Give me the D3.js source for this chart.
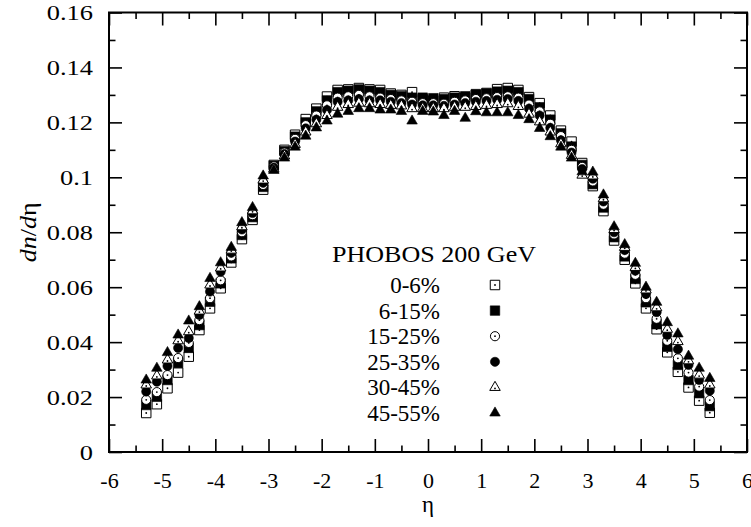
<!DOCTYPE html>
<html>
<head>
<meta charset="utf-8">
<script src="https://cdn.jsdelivr.net/npm/d3@7"></script>
<style>
  body { margin: 0; background: #fff; }
</style>
</head>
<body>
<div class="chart-box"></div>
<script>
// pseudorapidity bins
const eta = [-5.3, -5.1, -4.9, -4.7, -4.5, -4.3, -4.1, -3.9, -3.7, -3.5, -3.3, -3.1, -2.9, -2.7,
  -2.5, -2.3, -2.1, -1.9, -1.7, -1.5, -1.3, -1.1, -0.9, -0.7, -0.5, -0.3, -0.1,
  0.1, 0.3, 0.5, 0.7, 0.9, 1.1, 1.3, 1.5, 1.7, 1.9, 2.1, 2.3, 2.5, 2.7, 2.9, 3.1,
  3.3, 3.5, 3.7, 3.9, 4.1, 4.3, 4.5, 4.7, 4.9, 5.1, 5.3];

const centralities = ["0-6%", "6-15%", "15-25%", "25-35%", "30-45%", "45-55%"];

// dn/deta, one array per centrality class
const c0_6 = [0.0142, 0.0174, 0.0232, 0.0289, 0.0347, 0.0444, 0.0523, 0.0596, 0.0690, 0.0775, 0.0845, 0.0955, 0.1045, 0.1100,
  0.1155, 0.1212, 0.1250, 0.1294, 0.1318, 0.1320, 0.1325, 0.1320, 0.1318, 0.1305, 0.1300, 0.1310, 0.1285,
  0.1280, 0.1290, 0.1295, 0.1290, 0.1300, 0.1307, 0.1321, 0.1325, 0.1318, 0.1292, 0.1270, 0.1225, 0.1170, 0.1130, 0.1052, 0.0968,
  0.0877, 0.0770, 0.0700, 0.0614, 0.0523, 0.0447, 0.0363, 0.0292, 0.0235, 0.0187, 0.0143];
const c6_15 = [0.0171, 0.0201, 0.0262, 0.0324, 0.0379, 0.0462, 0.0547, 0.0614, 0.0705, 0.0790, 0.0855, 0.0965, 0.1042, 0.1095,
  0.1148, 0.1200, 0.1240, 0.1280, 0.1310, 0.1315, 0.1320, 0.1315, 0.1310, 0.1300, 0.1295, 0.1290, 0.1290,
  0.1288, 0.1285, 0.1290, 0.1295, 0.1303, 0.1305, 0.1312, 0.1315, 0.1310, 0.1285, 0.1255, 0.1210, 0.1160, 0.1112, 0.1045, 0.0975,
  0.0890, 0.0782, 0.0712, 0.0630, 0.0545, 0.0465, 0.0383, 0.0317, 0.0262, 0.0214, 0.0167];
const c15_25 = [0.0190, 0.0218, 0.0280, 0.0342, 0.0397, 0.0480, 0.0560, 0.0625, 0.0712, 0.0800, 0.0862, 0.0972, 0.1040, 0.1090,
  0.1140, 0.1190, 0.1225, 0.1262, 0.1290, 0.1295, 0.1300, 0.1295, 0.1290, 0.1285, 0.1280, 0.1275, 0.1270,
  0.1270, 0.1268, 0.1275, 0.1280, 0.1285, 0.1288, 0.1292, 0.1295, 0.1290, 0.1265, 0.1240, 0.1195, 0.1150, 0.1100, 0.1038, 0.0985,
  0.0900, 0.0792, 0.0722, 0.0645, 0.0560, 0.0485, 0.0405, 0.0341, 0.0289, 0.0238, 0.0189];
const c25_35 = [0.0220, 0.0256, 0.0313, 0.0379, 0.0415, 0.0499, 0.0584, 0.0656, 0.0725, 0.0810, 0.0870, 0.0980, 0.1035, 0.1085,
  0.1130, 0.1178, 0.1210, 0.1245, 0.1275, 0.1280, 0.1285, 0.1280, 0.1280, 0.1275, 0.1270, 0.1265, 0.1262,
  0.1262, 0.1260, 0.1265, 0.1270, 0.1275, 0.1278, 0.1282, 0.1285, 0.1278, 0.1250, 0.1225, 0.1180, 0.1135, 0.1090, 0.1030, 0.0995,
  0.0912, 0.0800, 0.0735, 0.0660, 0.0575, 0.0509, 0.0426, 0.0374, 0.0317, 0.0262, 0.0223];
const c30_45 = [0.0244, 0.0277, 0.0335, 0.0405, 0.0438, 0.0513, 0.0608, 0.0670, 0.0735, 0.0820, 0.0878, 0.0990, 0.1030, 0.1078,
  0.1120, 0.1165, 0.1195, 0.1225, 0.1255, 0.1265, 0.1270, 0.1268, 0.1265, 0.1262, 0.1260, 0.1250, 0.1250,
  0.1250, 0.1250, 0.1255, 0.1255, 0.1258, 0.1262, 0.1265, 0.1268, 0.1258, 0.1230, 0.1202, 0.1165, 0.1122, 0.1080, 0.1008, 0.1005,
  0.0922, 0.0810, 0.0745, 0.0672, 0.0590, 0.0525, 0.0447, 0.0402, 0.0332, 0.0280, 0.0244];
const c45_55 = [0.0262, 0.0305, 0.0362, 0.0426, 0.0477, 0.0529, 0.0632, 0.0689, 0.0745, 0.0835, 0.0890, 0.1005, 0.1025, 0.1070,
  0.1110, 0.1150, 0.1180, 0.1205, 0.1230, 0.1240, 0.1250, 0.1250, 0.1245, 0.1245, 0.1240, 0.1205, 0.1240,
  0.1238, 0.1225, 0.1240, 0.1215, 0.1239, 0.1235, 0.1235, 0.1235, 0.1225, 0.1210, 0.1178, 0.1148, 0.1110, 0.1070, 0.1020, 0.1019,
  0.0936, 0.0820, 0.0755, 0.0687, 0.0600, 0.0545, 0.0471, 0.0430, 0.0349, 0.0305, 0.0268];

const xTicks = [-6, -5, -4, -3, -2, -1, 0, 1, 2, 3, 4, 5, 6];
const yTicks = [0, 0.02, 0.04, 0.06, 0.08, 0.1, 0.12, 0.14, 0.16];
const xTickLabels = ["-6", "-5", "-4", "-3", "-2", "-1", "0", "1", "2", "3", "4", "5", "6"];
const yTickLabels = ["0", "0.02", "0.04", "0.06", "0.08", "0.1", "0.12", "0.14", "0.16"];

const series = [
  { name: centralities[0], values: c0_6, shape: "square", open: true },
  { name: centralities[1], values: c6_15, shape: "square", open: false },
  { name: centralities[2], values: c15_25, shape: "circle", open: true },
  { name: centralities[3], values: c25_35, shape: "circle", open: false },
  { name: centralities[4], values: c30_45, shape: "triangle", open: true },
  { name: centralities[5], values: c45_55, shape: "triangle", open: false },
];

const W = 751, H = 527;
const SERIF = "'Liberation Serif'";
const svg = d3.select(".chart-box").append("svg")
  .attr("width", W)
  .attr("height", H);

const x = d3.scaleLinear().domain([-6, 6]).range([109, 747]);
const y = d3.scaleLinear().domain([0, 0.16]).range([452, 12.5]);

const major = 13, minor = 6.5, lw = 1.6;
const stretch = 1.2; // y tick labels look wider than plain Times

//ticks on all four sides, pointing inward
const xMinor = d3.range(-5.5, 6, 1);
const yMinor = d3.range(0.01, 0.16, 0.02);

function styleAxis(g) {
  g.attr("font-family", null);
  g.selectAll("path.domain").remove();
  g.selectAll("line").attr("stroke", "#000").attr("stroke-width", lw);
  g.selectAll("text")
    .attr("fill", "#000")
    .style("font-family", SERIF)
    .style("font-size", "22px");
}

svg.append("g").attr("transform", `translate(0,${y(0)})`)
  .call(d3.axisBottom(x).tickValues(xTicks).tickSize(-major).tickPadding(20)
    .tickFormat((d, i) => xTickLabels[i]))
  .call(styleAxis);
svg.append("g").attr("transform", `translate(0,${y(0)})`)
  .call(d3.axisBottom(x).tickValues(xMinor).tickSize(-minor).tickFormat(""))
  .call(styleAxis);
svg.append("g").attr("transform", `translate(0,${y(0.16)})`)
  .call(d3.axisTop(x).tickValues(xTicks).tickSize(-major).tickFormat(""))
  .call(styleAxis);
svg.append("g").attr("transform", `translate(0,${y(0.16)})`)
  .call(d3.axisTop(x).tickValues(xMinor).tickSize(-minor).tickFormat(""))
  .call(styleAxis);

svg.append("g").attr("transform", `translate(${x(-6)},0)`)
  .call(d3.axisLeft(y).tickValues(yTicks).tickSize(-major).tickPadding(16)
    .tickFormat((d, i) => yTickLabels[i]))
  .call(styleAxis)
  .call(g => g.selectAll("text")
    .attr("x", -16 / stretch)
    .attr("transform", `scale(${stretch},1)`));
svg.append("g").attr("transform", `translate(${x(-6)},0)`)
  .call(d3.axisLeft(y).tickValues(yMinor).tickSize(-minor).tickFormat(""))
  .call(styleAxis);
svg.append("g").attr("transform", `translate(${x(6)},0)`)
  .call(d3.axisRight(y).tickValues(yTicks).tickSize(-major).tickFormat(""))
  .call(styleAxis);
svg.append("g").attr("transform", `translate(${x(6)},0)`)
  .call(d3.axisRight(y).tickValues(yMinor).tickSize(-minor).tickFormat(""))
  .call(styleAxis);

//frame
svg.append("rect")
  .attr("x", x(-6)).attr("y", y(0.16))
  .attr("width", x(6) - x(-6)).attr("height", y(0) - y(0.16))
  .attr("fill", "none").attr("stroke", "#000").attr("stroke-width", 2);

//axis titles
svg.append("text")
  .attr("x", (x(-6) + x(6)) / 2).attr("y", 512)
  .attr("text-anchor", "middle")
  .style("font-family", SERIF).style("font-size", "23px")
  .text("η");

const yl = svg.append("text")
  .attr("transform", `translate(36,${y(0.08)}) rotate(-90)`)
  .attr("text-anchor", "middle")
  .attr("textLength", 60).attr("lengthAdjust", "spacingAndGlyphs")
  .style("font-family", SERIF).style("font-size", "23px");
yl.append("tspan").attr("font-style", "italic").text("dn");
yl.append("tspan").text("/");
yl.append("tspan").attr("font-style", "italic").text("d");
yl.append("tspan").text("η");

//markers
const shapes = { square: d3.symbolSquare, circle: d3.symbolCircle, triangle: d3.symbolTriangle };
const sizes = { square: 90, circle: 66, triangle: 48 };

function drawMarker(g, s, cx, cy) {
  g.append("path")
    .attr("transform", `translate(${cx},${cy})`)
    .attr("d", d3.symbol().type(shapes[s.shape]).size(sizes[s.shape])())
    .attr("fill", s.open ? "#fff" : "#000")
    .attr("stroke", "#000")
    .attr("stroke-width", s.open ? 1 : 0.6);
  if (s.open) {
    g.append("circle")
      .attr("cx", cx).attr("cy", cy + (s.shape === "triangle" ? 1 : 0))
      .attr("r", 0.9).attr("fill", "#000");
  }
}

const plot = svg.append("g");
series.forEach(s => {
  const g = plot.append("g").attr("class", "series");
  s.values.forEach((v, i) => drawMarker(g, s, x(eta[i]), y(v)));
});

//legend
const legend = svg.append("g");
legend.append("text")
  .attr("x", 332).attr("y", 262)
  .attr("textLength", 204).attr("lengthAdjust", "spacingAndGlyphs")
  .style("font-family", SERIF).style("font-size", "24px")
  .text("PHOBOS 200 GeV");
series.forEach((s, i) => {
  const cy = 285 + i * 25.6;
  legend.append("text")
    .attr("x", 440).attr("y", cy + 8)
    .attr("text-anchor", "end")
    .style("font-family", SERIF).style("font-size", "23px")
    .text(s.name);
  drawMarker(legend, s, 495, cy);
});
</script>
</body>
</html>
